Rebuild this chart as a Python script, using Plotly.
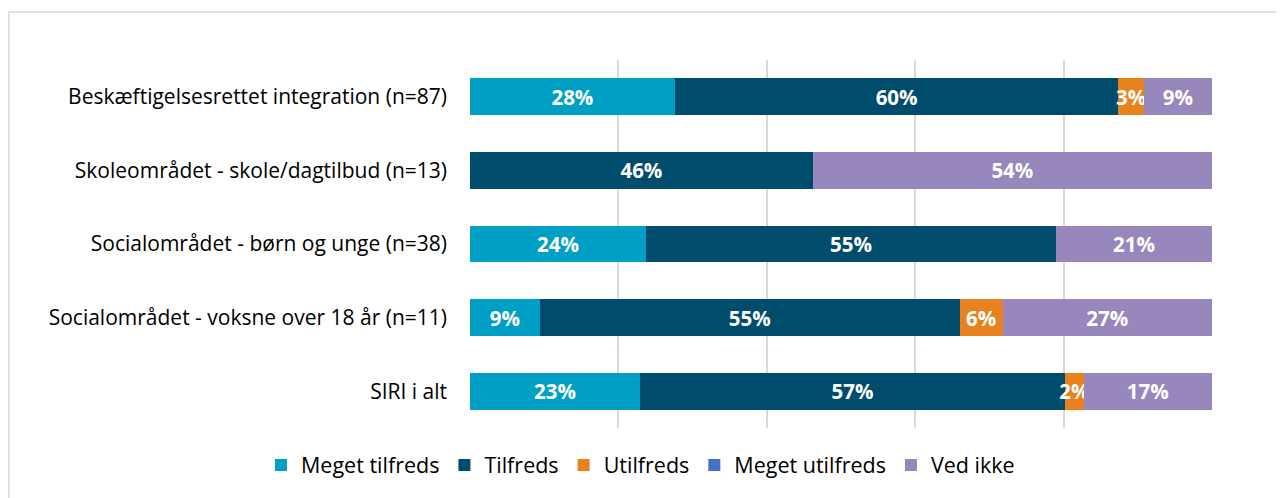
import plotly.graph_objects as go

categories = [
    "Beskæftigelsesrettet integration (n=87)",
    "Skoleområdet - skole/dagtilbud (n=13)",
    "Socialområdet - børn og unge (n=38)",
    "Socialområdet - voksne over 18 år (n=11)",
    "SIRI i alt",
]
series_names = ["Meget tilfreds", "Tilfreds", "Utilfreds", "Meget utilfreds", "Ved ikke"]
meget_tilfreds = [27.6, 0.0, 23.7, 9.4, 22.9]
tilfreds = [59.8, 46.2, 55.3, 56.6, 57.3]
utilfreds = [3.4, 0.0, 0.0, 5.8, 2.5]
meget_utilfreds = [0.0, 0.0, 0.0, 0.0, 0.0]
ved_ikke = [9.2, 53.8, 21.0, 28.2, 17.3]
labels = [
    ["28%", "", "24%", "9%", "23%"],
    ["60%", "46%", "55%", "55%", "57%"],
    ["3%", "", "", "6%", "2%"],
    ["", "", "", "", ""],
    ["9%", "54%", "21%", "27%", "17%"],
]
colors = ["#00a0c6", "#004c6d", "#e8821e", "#4472c4", "#9787bd"]

values = [meget_tilfreds, tilfreds, utilfreds, meget_utilfreds, ved_ikke]
font_family = "'Open Sans', sans-serif"

# page has an 8px body margin; offsets below compensate
L, R, T, B = 462, 80, 52, 78
W, H = 1284, 498
PW, PH = W - L - R, H - T - B

fig = go.Figure()
for name, vals, txt, col in zip(series_names, values, labels, colors):
    fig.add_trace(go.Bar(
        y=categories, x=vals, name=name, orientation="h",
        marker=dict(color=col, line=dict(width=0)),
        text=txt, textposition="inside", insidetextanchor="middle",
        textangle=0, constraintext="none", cliponaxis=False,
        textfont=dict(color="white", size=20.5, family=font_family, weight="bold"),
        hoverinfo="skip",
    ))

fig.update_layout(
    barmode="stack",
    bargap=0.5,
    width=W, height=H,
    margin=dict(l=L, r=R, t=T, b=B),
    paper_bgcolor="white", plot_bgcolor="white",
    font=dict(family=font_family, size=21, color="#000000"),
    xaxis=dict(range=[0, 100.01], dtick=20, tick0=0, showticklabels=False, showgrid=True,
               gridcolor="#d9d9d9", gridwidth=2, zeroline=False, showline=False, fixedrange=True),
    yaxis=dict(autorange="reversed", showgrid=False, zeroline=False, showline=False,
               ticks="", ticklabelstandoff=22, tickfont=dict(size=21, color="#000000")),
    legend=dict(orientation="h", xref="paper", yref="paper",
                x=(253 - L) / PW, y=(H - B - 457) / PH,
                xanchor="left", yanchor="middle", font=dict(size=21.5, color="#000000"),
                itemwidth=30, traceorder="normal"),
    showlegend=True,
    shapes=[dict(type="rect", xref="paper", yref="paper",
                 x0=(1 - L) / PW, x1=1.3,
                 y0=-0.5, y1=1 + (T - 4) / PH,
                 line=dict(color="#d9d9d9", width=1.5), layer="below")],
)

fig.write_html("out.html")
